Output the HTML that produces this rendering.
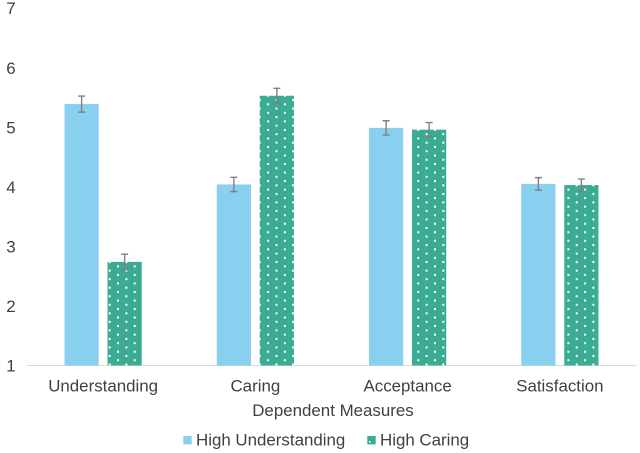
<!DOCTYPE html>
<html><head><meta charset="utf-8"><title>Dependent Measures Chart</title>
<style>
html,body{margin:0;padding:0;background:#fff}
svg{display:block}
text{font-family:"Liberation Sans",sans-serif;font-size:16.9px;fill:#404040}
</style></head>
<body>
<svg id="chart" xmlns="http://www.w3.org/2000/svg" width="640" height="453" viewBox="0 0 640 453">
<defs>
<pattern id="dots" patternUnits="userSpaceOnUse" x="108.7" y="312.3" width="16.68" height="8.53">
<rect width="16.68" height="8.53" fill="#3BAB93"/>
<rect x="0" y="0" width="2" height="2" fill="#fff"/>
<rect x="8.34" y="4.265" width="2" height="2" fill="#fff"/>
</pattern>
</defs>
<g id="y-axis"></g>
<line x1="27" x2="636" y1="365.5" y2="365.5" stroke="#d9d9d9" stroke-width="1"/>
<g id="bars"></g>
<g id="x-axis"></g>
<text x="333" y="416" text-anchor="middle">Dependent Measures</text>
<g>
<rect x="183.3" y="436" width="8.4" height="8.4" fill="#89CFF0"/>
<text x="196" y="445.7">High Understanding</text>
<rect x="367.3" y="436" width="8.4" height="8.4" fill="#3BAB93"/>
<rect x="369" y="441" width="1.6" height="1.6" fill="#fff"/>
<text x="380" y="445.7">High Caring</text>
</g>
</svg>
<script>
const categories = ["Understanding", "Caring", "Acceptance", "Satisfaction"];
const highUnderstanding = [5.39, 4.04, 4.99, 4.05];
const highCaring = [2.74, 5.53, 4.96, 4.03];
const highUnderstandingError = [0.135, 0.12, 0.12, 0.105];
const highCaringError = [0.13, 0.125, 0.12, 0.1];
const yTicks = [1, 2, 3, 4, 5, 6, 7];

const NS = "http://www.w3.org/2000/svg";
function yScale(v) { return 365.5 - (v - 1) * 59.55; }
function groupCenter(i) { return 27 + 152.25 * (i + 0.5); }
function make(tag, attrs, parent) {
  const el = document.createElementNS(NS, tag);
  for (const k in attrs) el.setAttribute(k, attrs[k]);
  parent.appendChild(el);
  return el;
}
const barsG = document.getElementById("bars");
const xG = document.getElementById("x-axis");
const yG = document.getElementById("y-axis");

yTicks.forEach(function (t) {
  const el = make("text", { x: 11, y: yScale(t) + 6, "text-anchor": "middle" }, yG);
  
  
  el.textContent = t;
});

const BAR_W = 34.2;
const OFFSET = 4.4;
function drawBar(x, value, err, fill) {
  const top = yScale(value);
  const bar = make("rect", { x: x, y: top, width: BAR_W, height: yScale(1) - top, fill: fill }, barsG);
  
  
  const cx = x + BAR_W / 2;
  const hi = yScale(value + err);
  const lo = yScale(value - err);
  const eb = make("path", {
    d: "M" + cx + " " + hi + "V" + lo + "M" + (cx - 3.5) + " " + hi + "H" + (cx + 3.5) + "M" + (cx - 3.5) + " " + lo + "H" + (cx + 3.5),
    stroke: "#808080", "stroke-width": 1.4, fill: "none"
  }, barsG);
  
  
}
categories.forEach(function (c, i) {
  const cx = groupCenter(i);
  drawBar(cx - OFFSET - BAR_W, highUnderstanding[i], highUnderstandingError[i], "#89CFF0");
  drawBar(cx + OFFSET, highCaring[i], highCaringError[i], "url(#dots)");
  const label = make("text", { x: cx, y: 391.7, "text-anchor": "middle" }, xG);
  
  
  label.textContent = c;
});
</script>
</body></html>
